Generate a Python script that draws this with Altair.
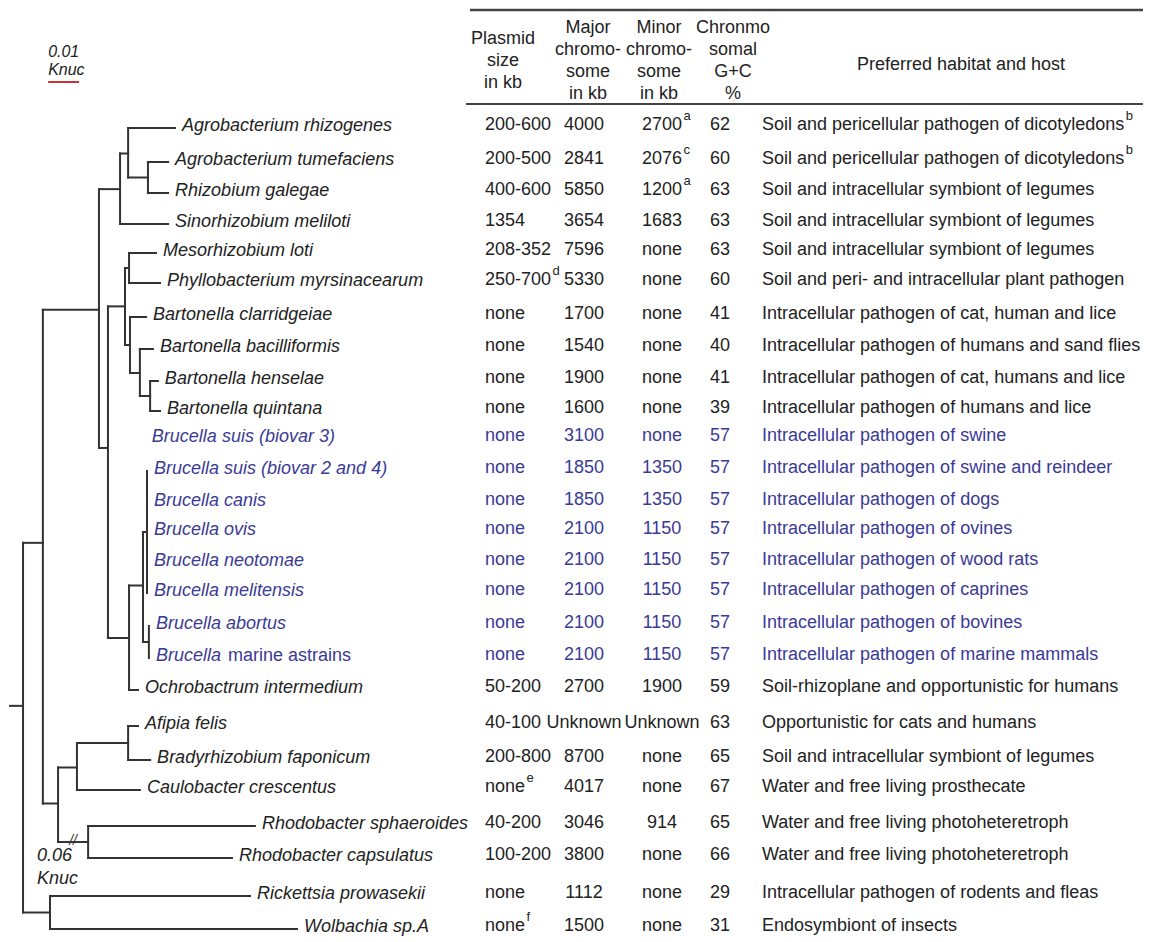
import altair as alt
import pandas as pd

# ---------------- data ----------------
SPECIES = ["Agrobacterium rhizogenes", "Agrobacterium tumefaciens", "Rhizobium galegae",
           "Sinorhizobium meliloti", "Mesorhizobium loti", "Phyllobacterium myrsinacearum",
           "Bartonella clarridgeiae", "Bartonella bacilliformis", "Bartonella henselae",
           "Bartonella quintana", "Brucella suis (biovar 3)", "Brucella suis (biovar 2 and 4)",
           "Brucella canis", "Brucella ovis", "Brucella neotomae", "Brucella melitensis",
           "Brucella abortus", "Brucella", "Ochrobactrum intermedium", "Afipia felis",
           "Bradyrhizobium faponicum", "Caulobacter crescentus", "Rhodobacter sphaeroides",
           "Rhodobacter capsulatus", "Rickettsia prowasekii", "Wolbachia sp.A"]
SPECIES_ROMAN = [""] * 17 + ["marine astrains"] + [""] * 8
GROUP = ["other"] * 10 + ["brucella"] * 8 + ["other"] * 8

PLASMID = ["200-600", "200-500", "400-600", "1354", "208-352", "250-700", "none", "none",
           "none", "none", "none", "none", "none", "none", "none", "none", "none", "none",
           "50-200", "40-100", "200-800", "none", "40-200", "100-200", "none", "none"]
PLASMID_SUP = [""] * 5 + ["d"] + [""] * 15 + ["e"] + [""] * 3 + ["f"]
MAJOR = ["4000", "2841", "5850", "3654", "7596", "5330", "1700", "1540", "1900", "1600",
         "3100", "1850", "1850", "2100", "2100", "2100", "2100", "2100", "2700", "Unknown",
         "8700", "4017", "3046", "3800", "1112", "1500"]
MINOR = ["2700", "2076", "1200", "1683", "none", "none", "none", "none", "none", "none",
         "none", "1350", "1350", "1150", "1150", "1150", "1150", "1150", "1900", "Unknown",
         "none", "none", "914", "none", "none", "none"]
MINOR_SUP = ["a", "c", "a"] + [""] * 23
GC = ["62", "60", "63", "63", "63", "60", "41", "40", "41", "39", "57", "57", "57", "57",
      "57", "57", "57", "57", "59", "63", "65", "67", "65", "66", "29", "31"]
HABITAT = ["Soil and pericellular pathogen of dicotyledons",
           "Soil and pericellular pathogen of dicotyledons",
           "Soil and intracellular symbiont of legumes",
           "Soil and intracellular symbiont of legumes",
           "Soil and intracellular symbiont of legumes",
           "Soil and peri- and intracellular plant pathogen",
           "Intracellular pathogen of cat, human and lice",
           "Intracellular pathogen of humans and sand flies",
           "Intracellular pathogen of cat, humans and lice",
           "Intracellular pathogen of humans and lice",
           "Intracellular pathogen of swine",
           "Intracellular pathogen of swine and reindeer",
           "Intracellular pathogen of dogs",
           "Intracellular pathogen of ovines",
           "Intracellular pathogen of wood rats",
           "Intracellular pathogen of caprines",
           "Intracellular pathogen of bovines",
           "Intracellular pathogen of marine mammals",
           "Soil-rhizoplane and opportunistic for humans",
           "Opportunistic for cats and humans",
           "Soil and intracellular symbiont of legumes",
           "Water and free living prosthecate",
           "Water and free living photoheteretroph",
           "Water and free living photoheteretroph",
           "Intracellular pathogen of rodents and fleas",
           "Endosymbiont of insects"]
HABITAT_SUP = ["b", "b"] + [""] * 24

HEADERS = ["Plasmid\nsize\nin kb", "Major\nchromo-\nsome\nin kb",
           "Minor\nchromo-\nsome\nin kb", "Chronmo\nsomal\nG+C\n%"]
HEADER_HABITAT = "Preferred habitat and host"


# tree: node depths in Knuc (distance from the root stem), leaves refer to rows
def L(row, d, hidden=False):
    return {"row": row, "d": d, "hidden": hidden}


def N(d, kids, y=None, brk=False):
    return {"d": d, "kids": kids, "y": y, "brk": brk}


TREE = N(0.0042, [
    N(0.0106, [
        N(0.0287, [
            N(0.0355, [
                N(0.0381, [L(0, 0.0532), N(0.0445, [L(1, 0.0510), L(2, 0.0510)])]),
                L(3, 0.0510)]),
            N(0.0316, [
                N(0.0371, [
                    N(0.0384, [L(4, 0.0471), L(5, 0.0484)]),
                    N(0.0387, [L(6, 0.0439),
                               N(0.0419, [L(7, 0.0461),
                                          N(0.0452, [L(8, 0.0477), L(9, 0.0484)])])])]),
                L(10, 0.0435, hidden=True),
                N(0.0384, [
                    N(0.0429, [
                        N(0.0442, [L(11, 0.0442), L(12, 0.0442), L(13, 0.0442),
                                   L(14, 0.0442), L(15, 0.0442)]),
                        N(0.0448, [L(16, 0.0448), L(17, 0.0448)])]),
                    L(18, 0.0413)])], y=10.28)], y=5.79),
        N(0.0155, [
            N(0.0216, [N(0.0381, [L(19, 0.0413), L(20, 0.0452)]), L(21, 0.0419)]),
            N(0.0252, [L(22, 0.0790), L(23, 0.0716)], brk=True)])], y=13.35),
    N(0.0129, [L(24, 0.0774), L(25, 0.0926)])], y=18.44)

SCALE_BAR = 0.01     # Knuc
SCALE_BAR_START = 0.0123
BREAK_LABEL = "0.06\nKnuc"
BREAK_LABEL_X = 0.0087

# ---------------- layout / style ----------------
ROW_Y_PX = [128, 162, 193, 224, 253, 283, 317, 349, 381, 411, 439, 471, 503, 532, 563,
            593, 626, 658, 690, 726, 760, 790, 826, 858, 896, 929]
COL_X_PX = [485, 584, 662, 720, 762]
HEAD_X_PX = [503, 588, 659, 733]
HEAD_MID_PX = 61
HEAD_LH = 22
M = 8
FONT = "Liberation Sans"
DARK = "#222222"
BLUE = "#3a3a96"
LINE = "#333333"

AW = {" ": 278, ",": 278, "-": 333, ".": 278, "(": 333, ")": 333}
for ch in "0123456789":
    AW[ch] = 556
AW.update(dict(zip("abcdefghijklmnopqrstuvwxyz",
                   [556, 556, 500, 556, 556, 278, 556, 556, 222, 222, 500, 222, 833,
                    556, 556, 556, 556, 333, 500, 278, 556, 500, 722, 500, 500, 500])))


def tw(s, size):
    return sum(AW.get(c, 667) for c in s) * size / 1000.0


# ---------------- build tree geometry ----------------
segs, breaks, leaves = [], [], []


def walk(n, pd):
    if "row" in n:
        n["y"] = n["row"]
        leaves.append(n)
        if not n["hidden"] and n["d"] > pd:
            segs.append({"x1": pd, "x2": n["d"], "y1": n["y"], "y2": n["y"]})
        return n["y"]
    ys = [walk(k, n["d"]) for k in n["kids"]]
    if n["y"] is None:
        n["y"] = (ys[0] + ys[-1]) / 2.0
    segs.append({"x1": n["d"], "x2": n["d"], "y1": min(ys), "y2": max(ys)})
    segs.append({"x1": pd, "x2": n["d"], "y1": n["y"], "y2": n["y"]})
    if n["brk"]:
        breaks.append({"x": (pd + n["d"]) / 2.0, "y": n["y"], "t": "//"})
    return n["y"]


walk(TREE, 0.0)
seg_df = pd.DataFrame(segs)
brk_df = pd.DataFrame(breaks)
leaf_df = pd.DataFrame([{"r": lf["row"], "d": lf["d"], "name": SPECIES[lf["row"]],
                         "roman": SPECIES_ROMAN[lf["row"]], "grp": GROUP[lf["row"]]}
                        for lf in leaves])

KX = alt.Scale(domain=[0, 0.1], range=[10 - M, 320 - M], nice=False, zero=False)
RY = alt.Scale(domain=list(range(len(ROW_Y_PX))), range=[v - M for v in ROW_Y_PX],
               nice=False, zero=False)
CX = alt.Scale(domain=list(range(5)), range=[v - M for v in COL_X_PX], nice=False, zero=False)
HX = alt.Scale(domain=list(range(4)), range=[v - M for v in HEAD_X_PX], nice=False, zero=False)
COLOR = alt.Color("grp:N", scale=alt.Scale(domain=["other", "brucella"], range=[DARK, BLUE]),
                  legend=None)

tree = alt.Chart(seg_df).mark_rule(color=LINE, strokeWidth=2, strokeCap="square").encode(
    x=alt.X("x1:Q", scale=KX, axis=None), x2="x2:Q",
    y=alt.Y("y1:Q", scale=RY, axis=None), y2="y2:Q")

brk = alt.Chart(brk_df).mark_text(font=FONT, fontSize=14, color=LINE, fontStyle="italic",
                                  align="center", baseline="middle", dy=-1).encode(
    x=alt.X("x:Q", scale=KX, axis=None), y=alt.Y("y:Q", scale=RY, axis=None), text="t:N")

bar_df = pd.DataFrame({"x1": [SCALE_BAR_START], "x2": [SCALE_BAR_START + SCALE_BAR],
                       "t": ["%.2f\nKnuc" % SCALE_BAR]})
bar = alt.Chart(bar_df).mark_rule(color="#c8333a", strokeWidth=2).encode(
    x=alt.X("x1:Q", scale=KX, axis=None), x2="x2:Q", y=alt.value(82 - M))
bar_lbl = alt.Chart(bar_df).mark_text(font=FONT, fontSize=16, fontStyle="italic", color=DARK,
                                      align="left", baseline="middle", lineBreak="\n",
                                      lineHeight=18).encode(
    x=alt.X("x1:Q", scale=KX, axis=None), y=alt.value(52 - M), text="t:N")

brk_lbl_df = pd.DataFrame({"x": [BREAK_LABEL_X], "t": [BREAK_LABEL]})
brk_lbl = alt.Chart(brk_lbl_df).mark_text(font=FONT, fontSize=18, fontStyle="italic",
                                          color=DARK, align="left", baseline="middle",
                                          lineBreak="\n", lineHeight=23).encode(
    x=alt.X("x:Q", scale=KX, axis=None), y=alt.value(856 - M), text="t:N")

species = alt.Chart(leaf_df).mark_text(font=FONT, fontSize=18, fontStyle="italic",
                                       align="left", baseline="middle", dx=7, dy=-2).encode(
    x=alt.X("d:Q", scale=KX, axis=None), y=alt.Y("r:Q", scale=RY, axis=None),
    text="name:N", color=COLOR)

roman_df = leaf_df[leaf_df["roman"] != ""]
roman_dx = 7 + tw(roman_df["name"].iloc[0] + " ", 18) + 2
roman = alt.Chart(roman_df).mark_text(font=FONT, fontSize=18, align="left",
                                      baseline="middle", dx=roman_dx, dy=-2).encode(
    x=alt.X("d:Q", scale=KX, axis=None), y=alt.Y("r:Q", scale=RY, axis=None),
    text="roman:N", color=COLOR)

# ---------------- table ----------------
COLS = [PLASMID, MAJOR, MINOR, GC, HABITAT]
SUPS = [PLASMID_SUP, None, MINOR_SUP, None, HABITAT_SUP]
ALIGN = ["left", "center", "center", "center", "left"]
cells, sups = [], []
for c, vals in enumerate(COLS):
    for r, v in enumerate(vals):
        cells.append({"r": r, "c": c, "t": v, "grp": GROUP[r], "al": ALIGN[c]})
        if SUPS[c] is not None and SUPS[c][r]:
            w = tw(v, 18)
            off = (w if ALIGN[c] == "left" else w / 2.0) + 1.5
            sups.append({"r": r, "c": c, "t": SUPS[c][r], "grp": GROUP[r], "off": round(off, 1)})
cell_df = pd.DataFrame(cells)
sup_df = pd.DataFrame(sups)

table_layers = []
for al in ["left", "center"]:
    table_layers.append(
        alt.Chart(cell_df[cell_df["al"] == al]).mark_text(
            font=FONT, fontSize=18, align=al, baseline="middle", dy=-3).encode(
            x=alt.X("c:Q", scale=CX, axis=None), y=alt.Y("r:Q", scale=RY, axis=None),
            text="t:N", color=COLOR))
for off in sorted(sup_df["off"].unique()):
    table_layers.append(
        alt.Chart(sup_df[sup_df["off"] == off]).mark_text(
            font=FONT, fontSize=13, align="left", baseline="middle", dx=float(off),
            dy=-12).encode(
            x=alt.X("c:Q", scale=CX, axis=None), y=alt.Y("r:Q", scale=RY, axis=None),
            text="t:N", color=COLOR))

# header blocks, vertically centred on one line: first line placed per number of lines
head_df = pd.DataFrame({"c": list(range(4)), "t": HEADERS,
                        "n": [h.count("\n") + 1 for h in HEADERS]})
head_layers = []
for n in sorted(head_df["n"].unique()):
    first_y = HEAD_MID_PX - (n - 1) * HEAD_LH / 2.0
    head_layers.append(
        alt.Chart(head_df[head_df["n"] == n]).mark_text(
            font=FONT, fontSize=18, color=DARK, align="center", baseline="middle",
            lineBreak="\n", lineHeight=HEAD_LH).encode(
            x=alt.X("c:Q", scale=HX, axis=None), y=alt.value(first_y - M), text="t:N"))
head_hab = alt.Chart(pd.DataFrame({"t": [HEADER_HABITAT]})).mark_text(
    font=FONT, fontSize=18, color=DARK, align="center", baseline="middle").encode(
    x=alt.value(961 - M), y=alt.value(65 - M), text="t:N")

rule_top = alt.Chart(pd.DataFrame({"a": [0]})).mark_rule(color="#444444", strokeWidth=2.5).encode(
    x=alt.value(470 - M), x2=alt.value(1143 - M), y=alt.value(10 - M))
rule_mid = alt.Chart(pd.DataFrame({"a": [0]})).mark_rule(color="#444444", strokeWidth=2).encode(
    x=alt.value(466 - M), x2=alt.value(1143 - M), y=alt.value(104 - M))

chart = alt.layer(
    tree, brk, bar, bar_lbl, brk_lbl, species, roman, *table_layers, *head_layers, head_hab,
    rule_top, rule_mid
).resolve_scale(x="independent").properties(
    width=1140, height=930, padding=0, autosize="none"
).configure_view(strokeWidth=0)

chart.save("out.html", embed_options={"renderer": "svg", "actions": False})
